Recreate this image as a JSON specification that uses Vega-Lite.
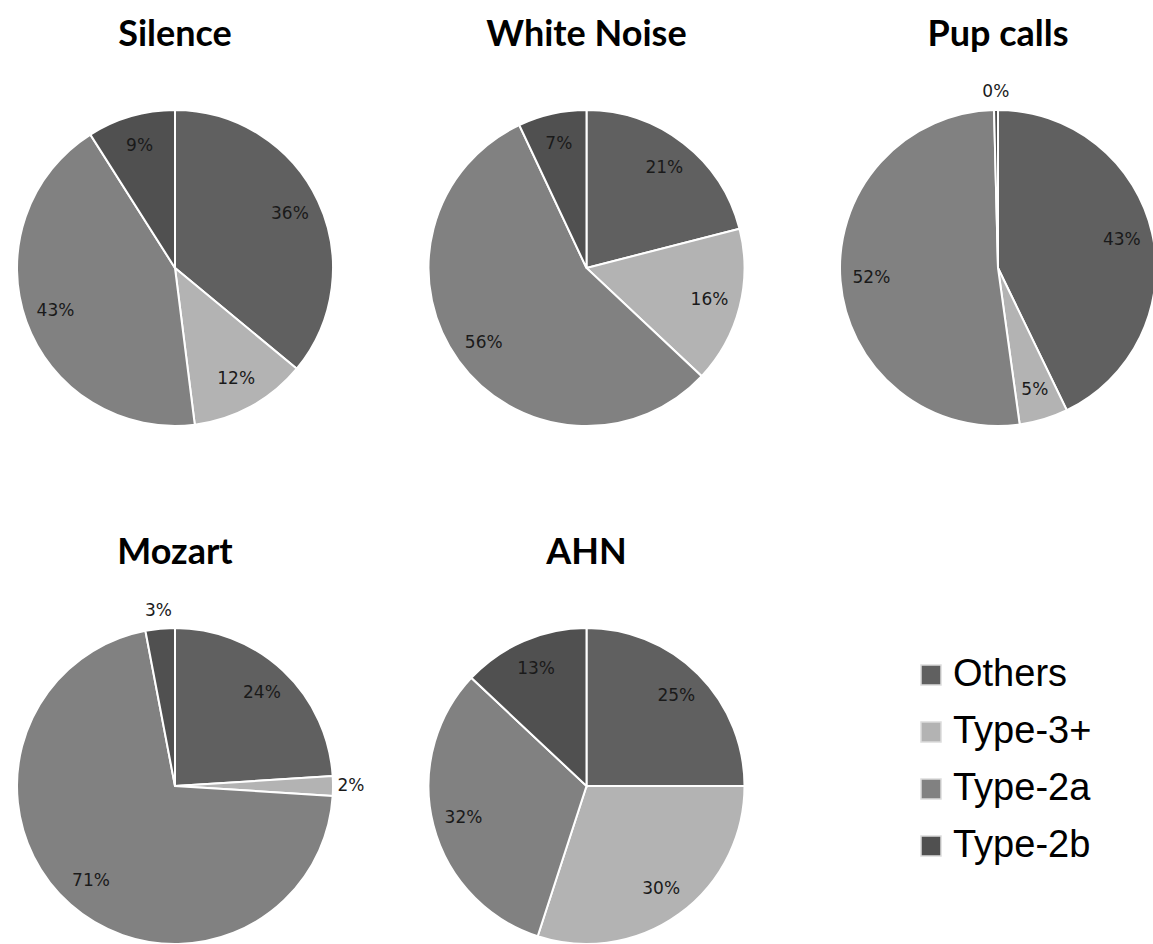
{
  "$schema": "https://vega.github.io/schema/vega-lite/v6.json",
  "padding": {"left": 13, "top": 17, "right": 0, "bottom": 0},
  "bounds": "flush",
  "background": "white",
  "data": {"values": [
    {"condition": "Silence", "category": "Others", "idx": 1, "share": 0.36},
    {"condition": "Silence", "category": "Type-3+", "idx": 2, "share": 0.12},
    {"condition": "Silence", "category": "Type-2a", "idx": 3, "share": 0.43},
    {"condition": "Silence", "category": "Type-2b", "idx": 4, "share": 0.09},
    {"condition": "White Noise", "category": "Others", "idx": 1, "share": 0.21},
    {"condition": "White Noise", "category": "Type-3+", "idx": 2, "share": 0.16},
    {"condition": "White Noise", "category": "Type-2a", "idx": 3, "share": 0.56},
    {"condition": "White Noise", "category": "Type-2b", "idx": 4, "share": 0.07},
    {"condition": "Pup calls", "category": "Others", "idx": 1, "share": 0.43},
    {"condition": "Pup calls", "category": "Type-3+", "idx": 2, "share": 0.05},
    {"condition": "Pup calls", "category": "Type-2a", "idx": 3, "share": 0.52},
    {"condition": "Pup calls", "category": "Type-2b", "idx": 4, "share": 0.004},
    {"condition": "Mozart", "category": "Others", "idx": 1, "share": 0.24},
    {"condition": "Mozart", "category": "Type-3+", "idx": 2, "share": 0.02},
    {"condition": "Mozart", "category": "Type-2a", "idx": 3, "share": 0.71},
    {"condition": "Mozart", "category": "Type-2b", "idx": 4, "share": 0.03},
    {"condition": "AHN", "category": "Others", "idx": 1, "share": 0.25},
    {"condition": "AHN", "category": "Type-3+", "idx": 2, "share": 0.30},
    {"condition": "AHN", "category": "Type-2a", "idx": 3, "share": 0.32},
    {"condition": "AHN", "category": "Type-2b", "idx": 4, "share": 0.13}
  ]},
  "facet": {
    "field": "condition",
    "type": "nominal",
    "sort": ["Silence", "White Noise", "Pup calls", "Mozart", "AHN"],
    "header": {
      "title": null,
      "labelFontSize": 36,
      "labelFont": "Lato",
      "labelFontWeight": "bold",
      "labelColor": "black",
      "labelPadding": -4,
      "labelBaseline": "alphabetic"
    }
  },
  "columns": 3,
  "spacing": {"column": 95.5, "row": 138},
  "resolve": {"scale": {"theta": "independent"}},
  "spec": {
    "width": 316,
    "height": 380,
    "encoding": {
      "theta": {"field": "share", "type": "quantitative", "stack": true},
      "order": {"field": "idx", "type": "ordinal"}
    },
    "layer": [
      {
        "mark": {"type": "arc", "radius": 158, "stroke": "white", "strokeWidth": 2},
        "encoding": {
          "color": {
            "field": "category",
            "type": "nominal",
            "scale": {
              "domain": ["Others", "Type-3+", "Type-2a", "Type-2b"],
              "range": ["#606060", "#b3b3b3", "#818181", "#505050"]
            },
            "legend": {
              "orient": "none",
              "legendX": 895,
              "legendY": 578,
              "title": null,
              "padding": 0,
              "symbolType": "square",
              "symbolSize": 400,
              "symbolStrokeColor": "#dcdcdc",
              "symbolStrokeWidth": 1.5,
              "labelFontSize": 38,
              "labelFont": "Liberation Sans",
              "labelColor": "black",
              "labelOffset": 3,
              "rowPadding": 19
            }
          }
        }
      },
      {
        "mark": {"type": "text", "font": "DejaVu Sans", "fontSize": 17, "color": "#1a1a1a", "radius": {"expr": "datum.share < 0.04 ? 176 : 127"}},
        "encoding": {
          "detail": {"field": "category", "type": "nominal"},
          "text": {"field": "share", "type": "quantitative", "format": ".0%"}
        }
      }
    ]
  },
  "config": {"view": {"stroke": null}}
}
